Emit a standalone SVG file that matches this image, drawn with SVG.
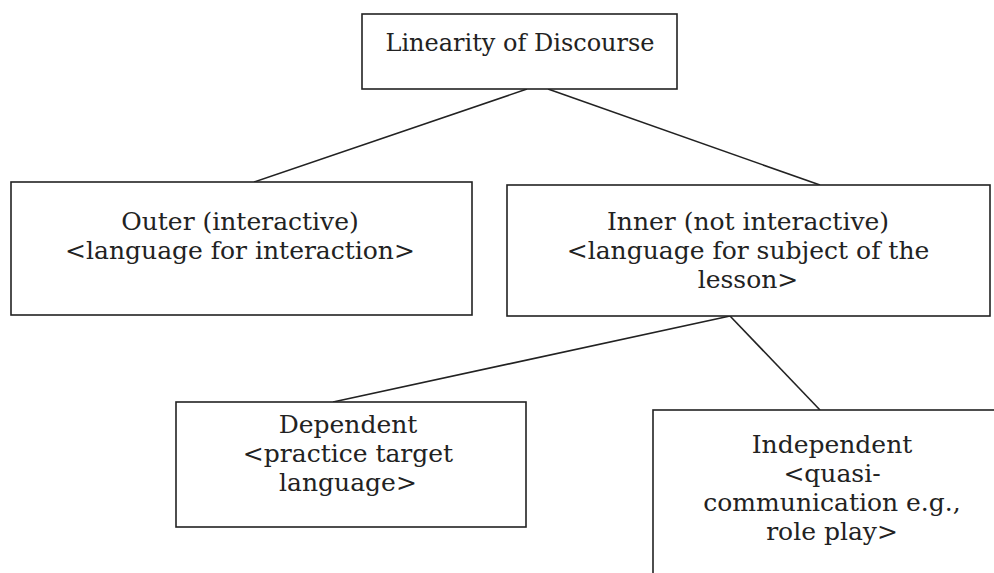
<svg xmlns="http://www.w3.org/2000/svg" width="994" height="573" viewBox="0 0 994 573">
<style>
.box{fill:#fff;stroke:#222;stroke-width:1.6}
.ln{stroke:#222;stroke-width:1.6;fill:none}
text{font-family:"DejaVu Serif","Liberation Serif",serif;font-size:25px;fill:#222;text-anchor:middle}
.t{font-size:24px}
</style>
<rect width="994" height="573" fill="#fff"/>
<g id="connectors">
<line class="ln" x1="527" y1="89" x2="254" y2="182"/>
<line class="ln" x1="548" y1="89" x2="820" y2="185"/>
<line class="ln" x1="730" y1="316" x2="333" y2="402"/>
<line class="ln" x1="730" y1="316" x2="820" y2="410"/>
</g>
<g id="root">
<rect class="box" x="362" y="14" width="315" height="75"/>
<text class="t" x="520" y="51">Linearity of Discourse</text>
</g>
<g id="outer">
<rect class="box" x="11" y="182" width="461" height="133"/>
<text x="240" y="230">Outer (interactive)</text>
<text x="240" y="259">&lt;language for interaction&gt;</text>
</g>
<g id="inner">
<rect class="box" x="507" y="185" width="483" height="131"/>
<text x="748" y="230">Inner (not interactive)</text>
<text x="748" y="259">&lt;language for subject of the</text>
<text x="748" y="288">lesson&gt;</text>
</g>
<g id="dependent">
<rect class="box" x="176" y="402" width="350" height="125"/>
<text x="348" y="433">Dependent</text>
<text x="348" y="462">&lt;practice target</text>
<text x="348" y="491">language&gt;</text>
</g>
<g id="independent">
<rect class="box" x="653" y="410" width="360" height="200"/>
<text x="832" y="453">Independent</text>
<text x="832" y="482">&lt;quasi-</text>
<text x="832" y="511">communication e.g.,</text>
<text x="832" y="540">role play&gt;</text>
</g>
</svg>
